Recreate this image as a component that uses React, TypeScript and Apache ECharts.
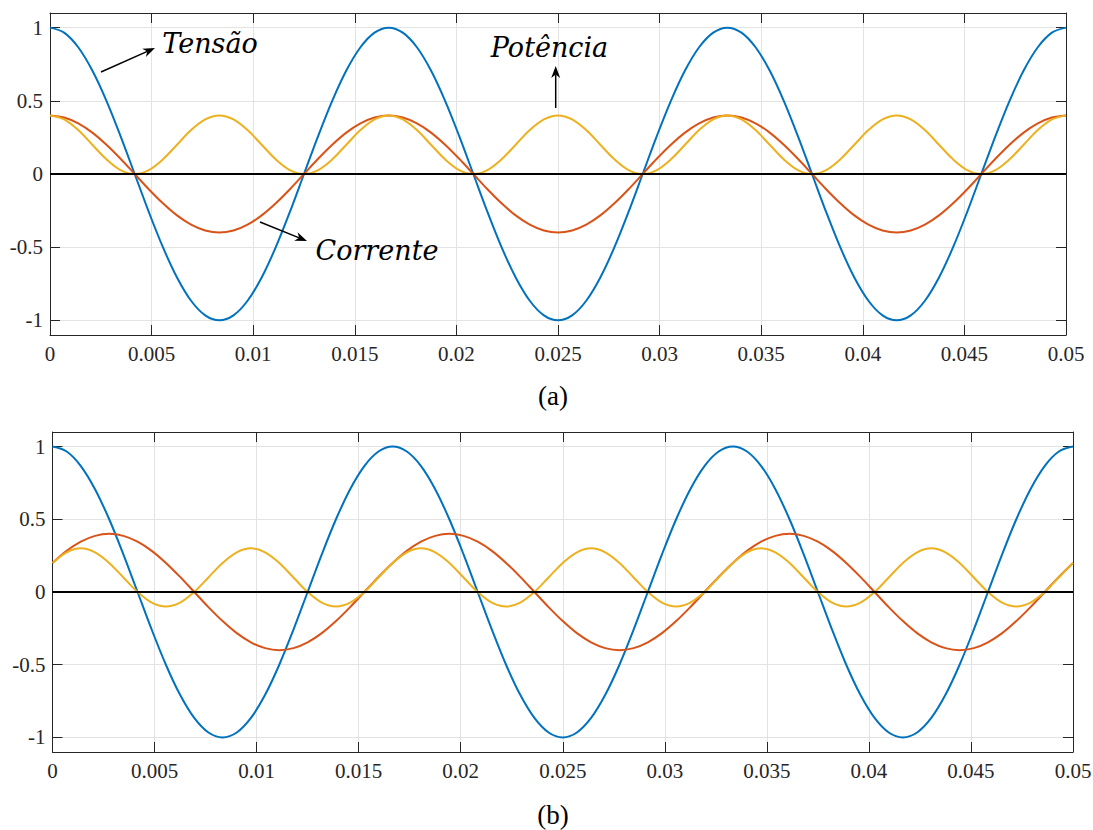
import React, { useEffect, useRef } from "react";
import * as echarts from "echarts";

// Time samples (s)
const tempo = [
  0, 0.000694, 0.001389, 0.002083, 0.002778, 0.003472, 0.004167, 0.004861, 0.005556, 0.00625,
  0.006944, 0.007639, 0.008333, 0.009028, 0.009722, 0.010417, 0.011111, 0.011806, 0.0125, 0.013194,
  0.013889, 0.014583, 0.015278, 0.015972, 0.016667, 0.017361, 0.018056, 0.01875, 0.019444, 0.020139,
  0.020833, 0.021528, 0.022222, 0.022917, 0.023611, 0.024306, 0.025, 0.025694, 0.026389, 0.027083,
  0.027778, 0.028472, 0.029167, 0.029861, 0.030556, 0.03125, 0.031944, 0.032639, 0.033333, 0.034028,
  0.034722, 0.035417, 0.036111, 0.036806, 0.0375, 0.038194, 0.038889, 0.039583, 0.040278, 0.040972,
  0.041667, 0.042361, 0.043056, 0.04375, 0.044444, 0.045139, 0.045833, 0.046528, 0.047222, 0.047917,
  0.048611, 0.049306, 0.05,
];

// Tensão (both panels)
const tensao = [
  1, 0.966, 0.866, 0.707, 0.5, 0.259, 0, -0.259, -0.5, -0.707, -0.866, -0.966,
  -1, -0.966, -0.866, -0.707, -0.5, -0.259, 0, 0.259, 0.5, 0.707, 0.866, 0.966,
  1, 0.966, 0.866, 0.707, 0.5, 0.259, 0, -0.259, -0.5, -0.707, -0.866, -0.966,
  -1, -0.966, -0.866, -0.707, -0.5, -0.259, 0, 0.259, 0.5, 0.707, 0.866, 0.966,
  1, 0.966, 0.866, 0.707, 0.5, 0.259, 0, -0.259, -0.5, -0.707, -0.866, -0.966,
  -1, -0.966, -0.866, -0.707, -0.5, -0.259, 0, 0.259, 0.5, 0.707, 0.866, 0.966,
  1,
];

// Panel (a)
const correnteA = [
  0.4, 0.386, 0.346, 0.283, 0.2, 0.104, 0, -0.104, -0.2, -0.283, -0.346, -0.386,
  -0.4, -0.386, -0.346, -0.283, -0.2, -0.104, 0, 0.104, 0.2, 0.283, 0.346, 0.386,
  0.4, 0.386, 0.346, 0.283, 0.2, 0.104, 0, -0.104, -0.2, -0.283, -0.346, -0.386,
  -0.4, -0.386, -0.346, -0.283, -0.2, -0.104, 0, 0.104, 0.2, 0.283, 0.346, 0.386,
  0.4, 0.386, 0.346, 0.283, 0.2, 0.104, 0, -0.104, -0.2, -0.283, -0.346, -0.386,
  -0.4, -0.386, -0.346, -0.283, -0.2, -0.104, 0, 0.104, 0.2, 0.283, 0.346, 0.386,
  0.4,
];
const potenciaA = [
  0.4, 0.373, 0.3, 0.2, 0.1, 0.027, 0, 0.027, 0.1, 0.2, 0.3, 0.373,
  0.4, 0.373, 0.3, 0.2, 0.1, 0.027, 0, 0.027, 0.1, 0.2, 0.3, 0.373,
  0.4, 0.373, 0.3, 0.2, 0.1, 0.027, 0, 0.027, 0.1, 0.2, 0.3, 0.373,
  0.4, 0.373, 0.3, 0.2, 0.1, 0.027, 0, 0.027, 0.1, 0.2, 0.3, 0.373,
  0.4, 0.373, 0.3, 0.2, 0.1, 0.027, 0, 0.027, 0.1, 0.2, 0.3, 0.373,
  0.4, 0.373, 0.3, 0.2, 0.1, 0.027, 0, 0.027, 0.1, 0.2, 0.3, 0.373,
  0.4,
];

// Panel (b)
const correnteB = [
  0.2, 0.283, 0.346, 0.386, 0.4, 0.386, 0.346, 0.283, 0.2, 0.104, 0, -0.104,
  -0.2, -0.283, -0.346, -0.386, -0.4, -0.386, -0.346, -0.283, -0.2, -0.104, 0, 0.104,
  0.2, 0.283, 0.346, 0.386, 0.4, 0.386, 0.346, 0.283, 0.2, 0.104, 0, -0.104,
  -0.2, -0.283, -0.346, -0.386, -0.4, -0.386, -0.346, -0.283, -0.2, -0.104, 0, 0.104,
  0.2, 0.283, 0.346, 0.386, 0.4, 0.386, 0.346, 0.283, 0.2, 0.104, 0, -0.104,
  -0.2, -0.283, -0.346, -0.386, -0.4, -0.386, -0.346, -0.283, -0.2, -0.104, 0, 0.104,
  0.2,
];
const potenciaB = [
  0.2, 0.273, 0.3, 0.273, 0.2, 0.1, 0, -0.073, -0.1, -0.073, 0, 0.1,
  0.2, 0.273, 0.3, 0.273, 0.2, 0.1, 0, -0.073, -0.1, -0.073, 0, 0.1,
  0.2, 0.273, 0.3, 0.273, 0.2, 0.1, 0, -0.073, -0.1, -0.073, 0, 0.1,
  0.2, 0.273, 0.3, 0.273, 0.2, 0.1, 0, -0.073, -0.1, -0.073, 0, 0.1,
  0.2, 0.273, 0.3, 0.273, 0.2, 0.1, 0, -0.073, -0.1, -0.073, 0, 0.1,
  0.2, 0.273, 0.3, 0.273, 0.2, 0.1, 0, -0.073, -0.1, -0.073, 0, 0.1,
  0.2,
];

const zeroT = [0, 0.05];
const zeroV = [0, 0];

const yTicks = [-1, -0.5, 0, 0.5, 1];
const xMin = 0;
const xMax = 0.05;
const xStep = 0.005;
const yMin = -1.1;
const yMax = 1.1;

const AXIS = "#262626";
const GRIDC = "#e3e3e3";
const TICKFONT = "Liberation Serif";
const ANNFONT = "DejaVu Serif";

const pairs = (xs: number[], ys: number[]) => xs.map((x, i) => [x, ys[i]]);

function arrow(x1: number, y1: number, x2: number, y2: number) {
  const dx = x2 - x1;
  const dy = y2 - y1;
  const len = Math.sqrt(dx * dx + dy * dy);
  const ux = dx / len;
  const uy = dy / len;
  const nx = -uy;
  const ny = ux;
  const L = 12;
  const W = 4.5;
  const back = [x2 - ux * L, y2 - uy * L];
  const inner = [x2 - ux * L * 0.7, y2 - uy * L * 0.7];
  return [
    {
      type: "line",
      shape: { x1, y1, x2: inner[0], y2: inner[1] },
      style: { stroke: "#000", lineWidth: 1.5 },
      z: 100,
    },
    {
      type: "polygon",
      shape: {
        points: [
          [x2, y2],
          [back[0] + nx * W, back[1] + ny * W],
          inner,
          [back[0] - nx * W, back[1] - ny * W],
        ],
      },
      style: { fill: "#000" },
      z: 100,
    },
  ];
}

const fmtX = (v: number) => String(parseFloat(v.toFixed(4)));
const fmtY = (v: number) => String(parseFloat(v.toFixed(2)));

function makeX(gridIndex: number, top: boolean) {
  return {
    type: "value",
    gridIndex,
    position: top ? "top" : "bottom",
    min: xMin,
    max: xMax,
    interval: xStep,
    axisLine: { show: true, onZero: false, lineStyle: { color: AXIS, width: 1 } },
    axisTick: { show: true, inside: true, length: 10, lineStyle: { color: AXIS, width: 1 } },
    axisLabel: top
      ? { show: false }
      : {
          show: true,
          margin: 8,
          color: AXIS,
          fontSize: 21,
          fontFamily: TICKFONT,
          formatter: fmtX,
        },
    splitLine: top ? { show: false } : { show: true, lineStyle: { color: GRIDC, width: 1 } },
  };
}

function makeY(gridIndex: number, right: boolean) {
  return {
    type: "value",
    gridIndex,
    position: right ? "right" : "left",
    min: yMin,
    max: yMax,
    axisLine: { show: true, onZero: false, lineStyle: { color: AXIS, width: 1 } },
    axisTick: {
      show: true,
      inside: true,
      length: 10,
      customValues: yTicks,
      lineStyle: { color: AXIS, width: 1 },
    },
    axisLabel: right
      ? { show: false }
      : {
          show: true,
          margin: 7,
          color: AXIS,
          fontSize: 21,
          fontFamily: TICKFONT,
          customValues: yTicks,
          formatter: fmtY,
        },
    splitLine: right ? { show: false } : { show: true, lineStyle: { color: GRIDC, width: 1 } },
  };
}

function line(name: string, xi: number, yi: number, xs: number[], ys: number[], color: string, smooth: number | boolean) {
  return {
    name,
    type: "line",
    xAxisIndex: xi,
    yAxisIndex: yi,
    data: pairs(xs, ys),
    showSymbol: false,
    smooth,
    silent: true,
    lineStyle: { color, width: 2 },
    itemStyle: { color },
  };
}

export default function App() {
  const ref = useRef<HTMLDivElement>(null);

  useEffect(() => {
    if (!ref.current) return;
    const chart = echarts.init(ref.current, undefined, { renderer: "svg" });
    const BLUE = "#0072BD";
    const ORANGE = "#D95319";
    const YELLOW = "#EDB120";
    const sm = 0.34;

    const textStyle = (text: string, font: string) => ({
      text,
      font,
      fill: "#000",
      textAlign: "center",
      textVerticalAlign: "middle",
    });

    const option: any = {
      animation: false,
      backgroundColor: "#ffffff",
      grid: [
        { left: 50, top: 13, width: 1016, height: 322, containLabel: false, outerBoundsMode: "none" },
        { left: 52.5, top: 432, width: 1020.5, height: 320, containLabel: false, outerBoundsMode: "none" },
      ],
      xAxis: [makeX(0, false), makeX(0, true), makeX(1, false), makeX(1, true)],
      yAxis: [makeY(0, false), makeY(0, true), makeY(1, false), makeY(1, true)],
      series: [
        line("Tensão (a)", 0, 0, tempo, tensao, BLUE, sm),
        line("Corrente (a)", 0, 0, tempo, correnteA, ORANGE, sm),
        line("Potência (a)", 0, 0, tempo, potenciaA, YELLOW, sm),
        line("Zero (a)", 0, 0, zeroT, zeroV, "#000000", false),
        line("Tensão (b)", 2, 2, tempo, tensao, BLUE, sm),
        line("Corrente (b)", 2, 2, tempo, correnteB, ORANGE, sm),
        line("Potência (b)", 2, 2, tempo, potenciaB, YELLOW, sm),
        line("Zero (b)", 2, 2, zeroT, zeroV, "#000000", false),
      ],
      graphic: [
        { type: "text", x: 210, y: 43, z: 100, style: textStyle("Tensão", `italic 27px '${ANNFONT}'`) },
        ...arrow(101, 72, 155, 48),
        { type: "text", x: 549.5, y: 47, z: 100, style: textStyle("Potência", `italic 27px '${ANNFONT}'`) },
        ...arrow(555.7, 108, 555.7, 66),
        { type: "text", x: 377, y: 250, z: 100, style: textStyle("Corrente", `italic 27px '${ANNFONT}'`) },
        ...arrow(260, 222, 307, 241),
        { type: "text", x: 553, y: 396, z: 100, style: textStyle("(a)", `27px '${TICKFONT}'`) },
        { type: "text", x: 553, y: 815, z: 100, style: textStyle("(b)", `27px '${TICKFONT}'`) },
      ],
    };
    chart.setOption(option);
    return () => {
      chart.dispose();
    };
  }, []);

  return (
    <div
      ref={ref}
      style={{ position: "fixed", left: 0, top: 0, width: 1093, height: 830, background: "#fff" }}
    />
  );
}
